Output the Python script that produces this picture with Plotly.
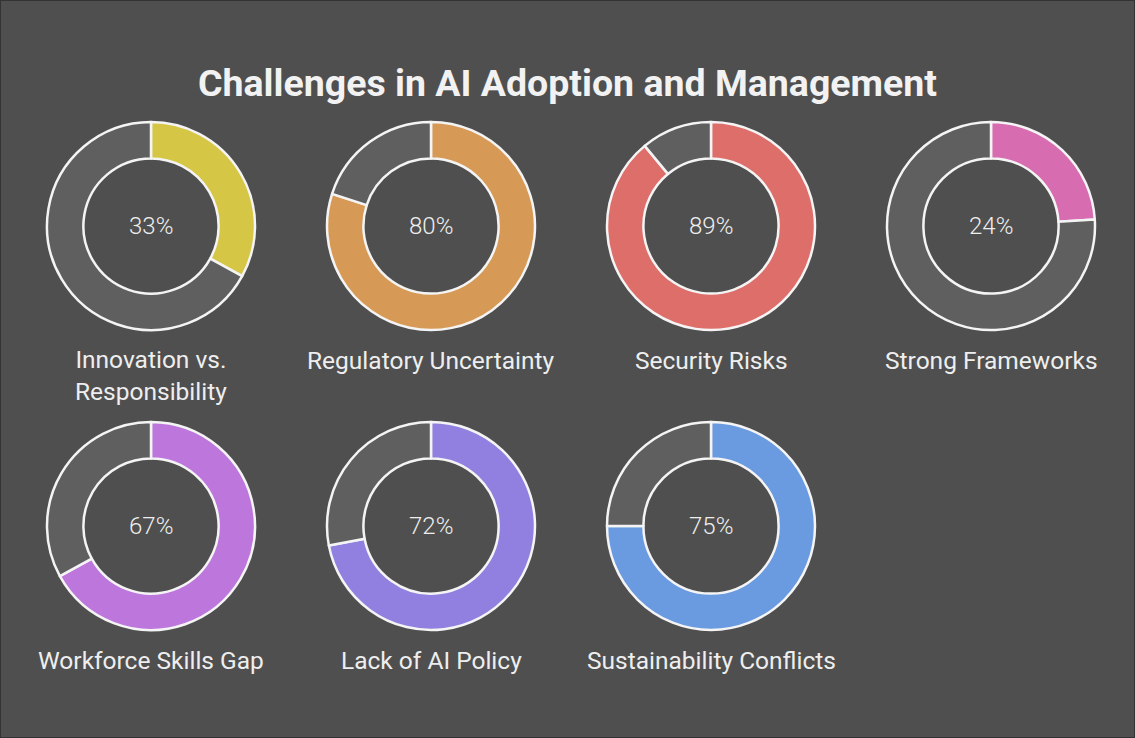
import plotly.graph_objects as go

W, H = 1135, 738

title = "Challenges in AI Adoption and Management"
labels = ["Innovation vs.<br>Responsibility", "Regulatory Uncertainty", "Security Risks",
          "Strong Frameworks", "Workforce Skills Gap", "Lack of AI Policy",
          "Sustainability Conflicts"]
values = [33, 80, 89, 24, 67, 72, 75]
colors = ["#d6c646", "#d69a56", "#de6e6a", "#d86cb0", "#bd76dc", "#9180e0", "#6a9ae0"]
rest_color = "#5f5f5f"
bg = "#4f4f4f"

# layout positions (pixels)
centers_x = [151, 431, 711, 991, 151, 431, 711]
centers_y = [226, 226, 226, 226, 526, 526, 526]
label_y = [375, 360, 360, 360, 660, 660, 660]
R = 104

fig = go.Figure()
for i, v in enumerate(values):
    cx, cy = centers_x[i], centers_y[i]
    fig.add_trace(go.Pie(
        values=[v, 100 - v],
        labels=["value", "rest"],
        hole=0.65,
        sort=False,
        direction="clockwise",
        rotation=0,
        textinfo="none",
        hoverinfo="skip",
        showlegend=False,
        marker=dict(colors=[colors[i], rest_color], line=dict(color="#f4f4f4", width=2.5)),
        domain=dict(x=[(cx - R) / W, (cx + R) / W], y=[1 - (cy + R) / H, 1 - (cy - R) / H]),
    ))
    fig.add_annotation(x=cx / W, y=1 - cy / H, xref="paper", yref="paper",
                       xanchor="center", yanchor="middle",
                       text=f"{v}%", showarrow=False,
                       font=dict(family="Roboto", size=24, weight=300, color="#eeeeee"))
    fig.add_annotation(x=cx / W, y=1 - label_y[i] / H, xref="paper", yref="paper",
                       xanchor="center", yanchor="middle",
                       text=labels[i], showarrow=False,
                       font=dict(family="Roboto", size=24.5, color="#eeeeee"))

fig.add_annotation(x=0.5, y=1 - 83 / H, xref="paper", yref="paper", text=f"<b>{title}</b>",
                   xanchor="center", yanchor="middle",
                   showarrow=False, font=dict(family="Roboto", size=37.5, color="#f2f2f2"))

fig.add_shape(type="rect", xref="paper", yref="paper", x0=0, y0=0, x1=1, y1=1,
              line=dict(color="#333333", width=2), fillcolor="rgba(0,0,0,0)")

fig.update_layout(width=W, height=H, margin=dict(l=0, r=0, t=0, b=0),
                  paper_bgcolor=bg, plot_bgcolor=bg)

fig.write_html("out.html", config={"displayModeBar": False},
               post_script="document.body.style.margin='0';document.body.style.overflow='hidden';")
